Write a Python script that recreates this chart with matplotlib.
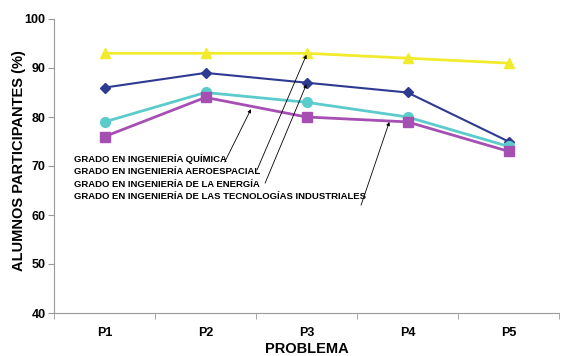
import matplotlib.pyplot as plt

plt.rcParams['font.family'] = ['Liberation Sans', 'DejaVu Sans']

# Data
problems = ['P1', 'P2', 'P3', 'P4', 'P5']
quimica = [76, 84, 80, 79, 73]
aeroespacial = [93, 93, 93, 92, 91]
energia = [86, 89, 87, 85, 75]
industriales = [79, 85, 83, 80, 74]

labels = ['GRADO EN INGENIERÍA QUÍMICA',
          'GRADO EN INGENIERÍA AEROESPACIAL',
          'GRADO EN INGENIERÍA DE LA ENERGÍA',
          'GRADO EN INGENIERÍA DE LAS TECNOLOGÍAS INDUSTRIALES']

fig = plt.figure(figsize=(5.63, 3.56), dpi=100)
ax = fig.add_axes([54 / 563, 1 - 313 / 356, 505 / 563, 294 / 356])

x = range(len(problems))
ax.plot(x, aeroespacial, color='#F2EA2C', marker='^', markersize=7, linewidth=2)
ax.plot(x, energia, color='#2E3A92', marker='D', markersize=5, linewidth=1.5)
ax.plot(x, industriales, color='#5CCBCB', marker='o', markersize=7, linewidth=2)
ax.plot(x, quimica, color='#A64FB3', marker='s', markersize=6.5, linewidth=2)

ax.set_xlim(-0.5, 4.5)
ax.set_ylim(40, 100)
ax.set_yticks(range(40, 101, 10))
ax.set_xticks(list(x))
ax.set_xticklabels(problems)
ax.set_xticks([i - 0.5 for i in range(6)], minor=True)
ax.tick_params(axis='x', which='major', length=0, pad=10)
ax.tick_params(axis='x', which='minor', length=4, color='#999999')
ax.tick_params(axis='y', length=4, color='#999999', pad=2)
for lbl in ax.get_xticklabels() + ax.get_yticklabels():
    lbl.set_fontweight('bold')
    lbl.set_fontsize(9)

for s in ['top', 'right']:
    ax.spines[s].set_visible(False)
for s in ['left', 'bottom']:
    ax.spines[s].set_color('#999999')

ax.set_xlabel('PROBLEMA', fontsize=10.5, fontweight='bold', labelpad=2)
fig.text(19 / 563, 1 - 161 / 356, 'ALUMNOS PARTICIPANTES (%)', fontsize=10.5,
         fontweight='bold', rotation=90, ha='center', va='center')

# labels with arrows
text_y = [71.5, 68.9, 66.3, 63.8]
starts = [(1.19, 70.8), (1.51, 69.2), (1.59, 66.5), (2.54, 62.0)]
tips = [(1.45, 81.6), (2.0, 92.7), (2.0, 86.7), (2.82, 79.0)]
for lab, ty in zip(labels, text_y):
    ax.text(-0.3, ty, lab, fontsize=6.8, fontweight='bold', va='center', ha='left')
for (sx, sy), (tx, tyy) in zip(starts, tips):
    ax.annotate('', xy=(tx, tyy), xytext=(sx, sy),
                arrowprops=dict(arrowstyle='-|>', color='black', lw=0.6,
                                mutation_scale=5, shrinkA=0, shrinkB=0))

fig.savefig('out.png', dpi=100)
